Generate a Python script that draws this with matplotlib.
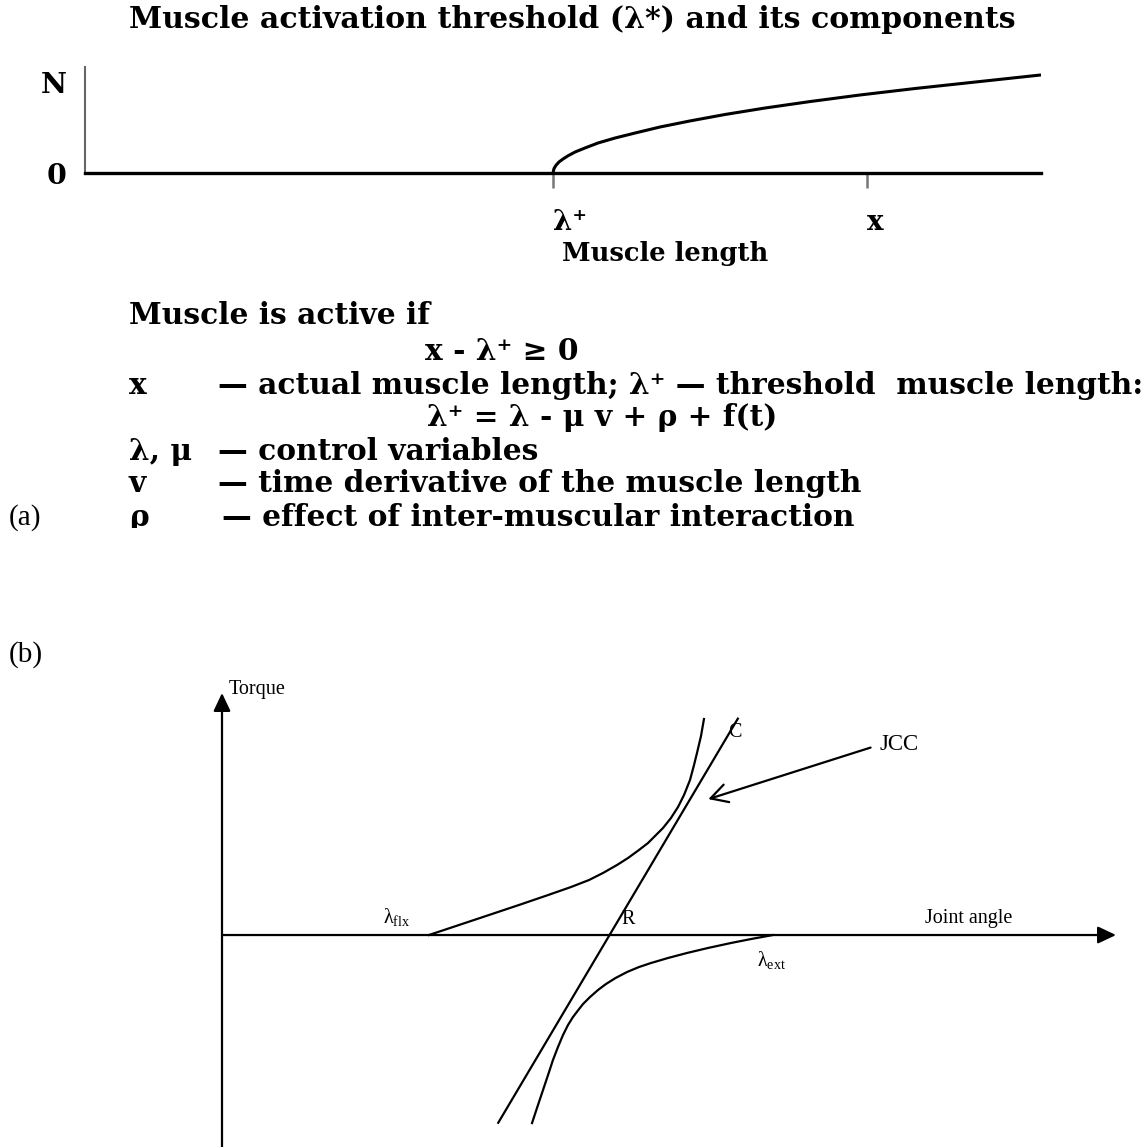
import numpy as np
import matplotlib
matplotlib.use("Agg")
import matplotlib.pyplot as plt

plt.rcParams['mathtext.fontset'] = 'custom'
plt.rcParams['mathtext.rm'] = 'Liberation Serif'
plt.rcParams['mathtext.it'] = 'Liberation Serif:italic'

BOLD = ['DejaVu Serif', 'DejaVu Sans']
SERIF = ['Liberation Serif', 'DejaVu Serif']

# (a) activation of the muscle vs. its length
length_a = [48.95, 49.06, 49.27, 49.58, 50.0, 50.52, 51.26, 52.30, 53.66, 55.44,
            57.53, 60.15, 63.28, 66.95, 71.13, 75.84, 81.07, 86.82, 93.10, 100.0]
force_a = [0.0, 0.042, 0.073, 0.104, 0.132, 0.162, 0.198, 0.236, 0.283, 0.330,
           0.377, 0.434, 0.491, 0.552, 0.613, 0.674, 0.736, 0.797, 0.858, 0.925]
tick_pos_a = [48.95, 81.8]
tick_lab_a = ['λ⁺', 'x']

# (b) torque / joint angle characteristics
flx_angle = [2.315, 2.651, 2.987, 3.322, 3.647, 3.904, 4.105, 4.262, 4.418, 4.541, 4.664,
             4.765, 4.855, 4.933, 5.022, 5.101, 5.168, 5.235, 5.280, 5.313, 5.358, 5.391]
flx_torque = [0.0, 0.112, 0.224, 0.336, 0.447, 0.537, 0.615, 0.694, 0.783, 0.861, 0.951,
              1.029, 1.119, 1.197, 1.309, 1.432, 1.566, 1.734, 1.902, 2.036, 2.226, 2.416]
ext_angle = [6.163, 5.917, 5.694, 5.436, 5.201, 4.989, 4.799, 4.664, 4.530, 4.402, 4.295, 4.206,
             4.116, 4.038, 3.977, 3.926, 3.870, 3.814, 3.758, 3.702, 3.647, 3.587, 3.527, 3.468]
ext_torque = [0.0, -0.045, -0.089, -0.145, -0.201, -0.257, -0.313, -0.358, -0.414, -0.481,
              -0.548, -0.615, -0.694, -0.772, -0.850, -0.917, -1.007, -1.119, -1.253, -1.398,
              -1.566, -1.745, -1.924, -2.103]
jcc_angle = [3.09, 5.77]
jcc_torque = [-2.10, 2.42]
jcc_pointer = (5.44, 1.52)

W, H = 1141, 1147
fig = plt.figure(figsize=(W / 100, H / 100), dpi=100)


def fx(px):
    return px / W


def fy(py):
    return 1 - py / H


# ---------------- panel (a) ----------------
fig.text(fx(572), fy(20), 'Muscle activation threshold (λ*) and its components',
         family=BOLD, weight='bold', fontsize=21.6, ha='center', va='center')

ax_a = fig.add_axes([fx(85), fy(173), fx(1041 - 85), (173 - 67) / H])
ax_a.plot(length_a, force_a, color='black', lw=2.2, solid_capstyle='butt',
          solid_joinstyle='round')
ax_a.set_xlim(0, 100)
ax_a.set_ylim(0, 1)
for s in ['top', 'right']:
    ax_a.spines[s].set_visible(False)
ax_a.spines['left'].set_color('#666666')
ax_a.spines['left'].set_linewidth(1.5)
ax_a.spines['bottom'].set_linewidth(2.4)
ax_a.set_xticks(tick_pos_a)
ax_a.set_xticklabels(tick_lab_a, family=BOLD, weight='bold', fontsize=20, ha='left')
ax_a.tick_params(axis='x', length=11, width=1.8, color='#777777', pad=15)
ax_a.set_yticks([0, 0.85])
ax_a.set_yticklabels(['0', 'N'], family=BOLD, weight='bold', fontsize=20.5)
ax_a.tick_params(axis='y', length=0, pad=13)
ax_a.set_xlabel('Muscle length', family=BOLD, weight='bold', fontsize=18.5,
                ha='left', va='center')
ax_a.xaxis.set_label_coords((562 - 85) / (1041 - 85), (173 - 253) / (173 - 67))

# notes under the graph, last line is cut by the panel edge
ax_t = fig.add_axes([0, fy(528), 1, (528 - 290) / H])
ax_t.set_xlim(0, W)
ax_t.set_ylim(528, 290)
ax_t.axis('off')

notes = [
    (129, 316, 'Muscle is active if'),
    (425, 352, 'x - λ⁺ ≥ 0'),
    (129, 386, 'x'),
    (218, 386, '— actual muscle length; λ⁺ — threshold  muscle length:'),
    (427, 418, 'λ⁺ = λ - μ v + ρ + f(t)'),
    (129, 452, 'λ, μ'),
    (218, 452, '— control variables'),
    (129, 484, 'v'),
    (218, 484, '— time derivative of the muscle length'),
    (129, 518, 'ρ'),
    (222, 518, '— effect of inter-muscular interaction'),
]
for x0, y0, txt in notes:
    ax_t.text(x0, y0, txt, family=BOLD, weight='bold', fontsize=21.3,
              ha='left', va='center', clip_on=True)

fig.text(fx(9), fy(518), '(a)', family=SERIF, fontsize=21, ha='left', va='center')
fig.text(fx(9), fy(655), '(b)', family=SERIF, fontsize=21, ha='left', va='center')

# ---------------- panel (b) ----------------
ax_b = fig.add_axes([fx(222), 0, fx(1116 - 222), (H - 693) / H])
ax_b.set_xlim(0, 10)
ax_b.set_ylim(-2.371, 2.707)
ax_b.axis('off')

axis_arrow = dict(arrowstyle='-|>,head_length=0.55,head_width=0.26', color='black',
                  lw=1.6, shrinkA=0, shrinkB=0, mutation_scale=20)
ax_b.annotate('', xy=(10, 0), xytext=(0, 0), arrowprops=axis_arrow,
              annotation_clip=False)
ax_b.annotate('', xy=(0, 2.707), xytext=(0, -2.371), arrowprops=axis_arrow,
              annotation_clip=False)

for xs, ys in [(flx_angle, flx_torque), (ext_angle, ext_torque), (jcc_angle, jcc_torque)]:
    ax_b.plot(xs, ys, color='black', lw=1.6, solid_joinstyle='round')

ax_b.annotate('JCC', xy=jcc_pointer, xytext=(7.36, 2.13), family=SERIF, fontsize=16.5,
              ha='left', va='center',
              arrowprops=dict(arrowstyle='->,head_length=0.6,head_width=0.33',
                              color='black', lw=1.6, mutation_scale=20,
                              relpos=(0, 0.5), shrinkA=5, shrinkB=0))

lab = dict(family=SERIF, fontsize=14.5, ha='left', va='center')
ax_b.text(0.07, 2.75, 'Torque', clip_on=False, **lab)
ax_b.text(7.86, 0.19, 'Joint angle', **lab)
ax_b.text(1.80, 0.20, r'λ$_{\mathregular{flx}}$', **lab)
ax_b.text(5.98, -0.28, r'λ$_{\mathregular{ext}}$', **lab)
ax_b.text(4.47, 0.17, 'R', **lab)
ax_b.text(5.66, 2.27, 'C', **lab)

fig.savefig('out.png', dpi=100)
